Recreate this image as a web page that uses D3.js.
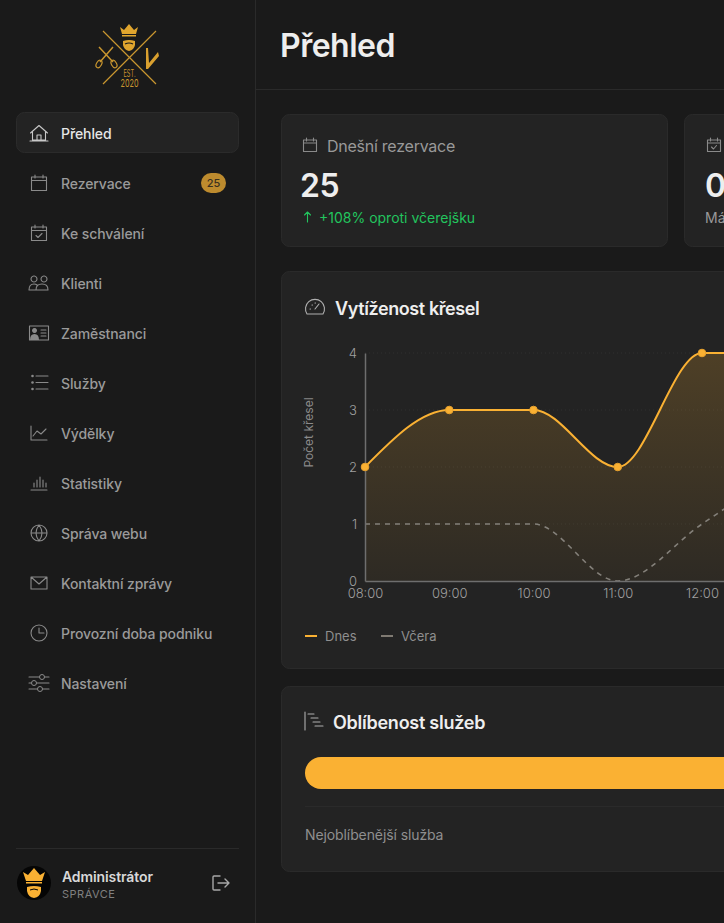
<!DOCTYPE html>
<html lang="cs">
<head>
  <meta charset="utf-8" />
  <title>Přehled</title>
  <style>
    html, body { margin: 0; padding: 0; background: #1a1a1a; overflow: hidden; }
    svg { display: block; }
    text { font-family: Inter, "Noto Sans", sans-serif; }
    .ic { fill: none; stroke: #8a8a8a; stroke-width: 1.1; stroke-linecap: round; stroke-linejoin: round; }
  </style>
</head>
<body>
  <svg id="page" width="724" height="923"></svg>

  <script src="https://d3js.org/d3.v7.min.js"></script>
  <script>
    // chart data
    const hours = ["08:00", "09:00", "10:00", "11:00", "12:00", "13:00"];
    const today = [2, 3, 3, 2, 4, 4];
    const yesterday = [1, 1, 1, 0, 1, 2];
    const yTicks = [0, 1, 2, 3, 4];
    const legendNames = ["Dnes", "Včera"];
    const topServiceShare = [100];

    // sidebar
    const navLabels = ["Přehled", "Rezervace", "Ke schválení", "Klienti", "Zaměstnanci", "Služby",
      "Výdělky", "Statistiky", "Správa webu", "Kontaktní zprávy", "Provozní doba podniku", "Nastavení"];

    const GOLD = "#fab133";
    const svg = d3.select("#page");

    function label(parent, x, y, str, size, weight, fill, spacing) {
      return parent.append("text").attr("x", x).attr("y", y).text(str)
        .attr("font-size", size).attr("font-weight", weight).attr("fill", fill)
        .attr("letter-spacing", spacing || 0);
    }
    function icon(cx, cy, d, extra) {
      const p = svg.append("path").attr("class", "ic").attr("d", d)
        .attr("transform", `translate(${cx},${cy})`);
      if (extra) p.style("stroke", extra);
      return p;
    }

    // sidebar + header lines
    svg.append("rect").attr("x", 255).attr("width", 1).attr("height", 923).attr("fill", "#2a2a2a");
    svg.append("rect").attr("x", 256).attr("y", 89).attr("width", 468).attr("height", 1).attr("fill", "#2a2a2a");

    // logo
    const logo = svg.append("g").attr("fill", "none").attr("stroke", "#c9962f").attr("stroke-width", 1.2);
    logo.append("path").attr("d", "M103 31L156 84M156 31L103 84");
    logo.append("path").attr("fill", "#e0a52e").attr("stroke", "none")
      .attr("d", "M120 27l4 3 5-6 5 6 4-3-2 7h-14zM122 35h14v1.500h-14z");
    logo.append("path").attr("fill", "#e0a52e").attr("stroke", "none")
      .attr("d", "M123 41q6-2 12 0v4q-1 5-6 6q-5-1-6-6z");
    logo.append("path").attr("stroke", "#1a1a1a").attr("d", "M125 44q4-2 8 0");
    logo.append("path").attr("stroke-width", 1.500).attr("d", "M99 47L113 62M113 47L100 62");
    logo.append("ellipse").attr("cx", 99).attr("cy", 64).attr("rx", 2.500).attr("ry", 4).attr("transform", "rotate(30 99 64)");
    logo.append("ellipse").attr("cx", 114).attr("cy", 64).attr("rx", 2.500).attr("ry", 4).attr("transform", "rotate(-30 114 64)");
    logo.append("path").attr("fill", "#d9a02f").attr("stroke", "none")
      .attr("d", "M146 48l2 0 1 15 9-11 1 4-11 13-2 0z");
    label(svg, 129.500, 77, "EST.", 10, 400, "#c9962f").attr("text-anchor", "middle").attr("textLength", 12).attr("lengthAdjust", "spacingAndGlyphs");
    label(svg, 129.500, 87, "2020", 11, 400, "#c9962f").attr("text-anchor", "middle").attr("textLength", 18).attr("lengthAdjust", "spacingAndGlyphs");

    // active nav pill
    svg.append("rect").attr("x", 16.500).attr("y", 112.500).attr("width", 222).attr("height", 40).attr("rx", 8)
      .attr("fill", "#232323").attr("stroke", "#2b2b2b");

    const navY = d3.scalePoint().domain(navLabels).range([133, 683]);
    navLabels.forEach((n, i) => {
      label(svg, 61, navY(n) + 6, n, 14, 500, i === 0 ? "#e6e6e6" : "#9a9a9a", -0.1);
    });

    // nav icons, one per row
    const cal = "M-7.500-6h15v13.500h-15zM-7.500-2.500h15M-4-8v3M4-8v3";
    const navIcons = [
      "M-8.500 0L0-7.500 8.500 0M-6.500-1V7h13V-1M-2 7V2h4v5M-9 8h18",
      cal, cal + "M-3 2.500l2 2 4-4",
      "M-5-7a3 3 0 1 0 .01 0M5-7a3 3 0 1 0 .01 0M-10 7q0-6 5-6q2 0 3 1M-3 7h-7M-3 7h12q0-6-6-6q-6 0-6 6",
      "M-9.500-7h19v14h-19zM2-3h5M2 0h5M2 3h5",
      "M-3-7H9M-3-.5H9M-3 6H9",
      "M-8-7V7H8M-6 3l4-5 4 3 5-5",
      "M-8 7H8M-5 4V0M-2 4V-3M1 4V-6M4 4V-3M7 4V0",
      "M8 0A8 8 0 1 1-8 0A8 8 0 1 1 8 0M-8 0H8M0-8Q-6 0 0 8M0-8Q6 0 0 8",
      "M-8-6H8V6H-8zM-8-6L0 1 8-6",
      "M8 0A8 8 0 1 1-8 0A8 8 0 1 1 8 0M0-5V0H5",
      "M-10-6H10M-10 0H10M-10 6H10"
    ];
    navIcons.forEach((ic, i) => {
      const cy = navY(navLabels[i]);
      icon(39, cy, ic, i === 0 ? "#c8c8c8" : null);
      if (i === 4) {
        svg.append("path").attr("fill", "#8a8a8a").attr("transform", `translate(39,${cy})`)
          .attr("d", "M-4.500-5a2.500 2.500 0 1 0 .01 0zM-9 7q0-6 4.500-6t4.500 6z");
      }
      if (i === 5) {
        [-7, -.5, 6].forEach(dy => svg.append("circle").attr("cx", 32.500).attr("cy", cy + dy).attr("r", 1.300).attr("fill", "#8a8a8a"));
      }
      if (i === 11) {
        [[3, -6], [-5, 0], [1, 6]].forEach(c => svg.append("circle").attr("cx", 39 + c[0]).attr("cy", cy + c[1])
          .attr("r", 2.500).attr("fill", "#1a1a1a").attr("stroke", "#8a8a8a"));
      }
    });

    // reservation badge
    svg.append("rect").attr("x", 201).attr("y", 173).attr("width", 25).attr("height", 20).attr("rx", 10).attr("fill", "#bd8b2e");
    label(svg, 213.500, 187, "25", 11, 500, "#3a3020").attr("text-anchor", "middle");

    // user footer
    svg.append("rect").attr("x", 16).attr("y", 848).attr("width", 223).attr("height", 1).attr("fill", "#2a2a2a");
    svg.append("circle").attr("cx", 34).attr("cy", 883).attr("r", 17).attr("fill", "#050505");
    svg.append("path").attr("fill", GOLD).attr("d", "M23 872l5 3 6-7 6 7 5-3-3 9H26zM26 882h16v1.500H26z");
    svg.append("path").attr("fill", GOLD).attr("d", "M27 887q7-2 14 0v4q-1 6-7 7q-6-1-7-7z");
    svg.append("path").attr("fill", "none").attr("stroke", "#050505").attr("d", "M30 890q4-2 8 0");
    label(svg, 62, 882, "Administrátor", 14, 600, "#d8d8d8", -0.1);
    label(svg, 62, 898, "SPRÁVCE", 11, 400, "#808080", 0.5);
    icon(221, 883, "M-1-7h-6q-1 0-1 1V6q0 1 1 1h6M-3 0H8M4-4L8 0 4 4", "#a8a8a8").style("stroke-width", 1.4);

    // title
    label(svg, 280, 57, "Přehled", 32, 600, "#eeeeee", -0.5);

    // cards
    const cards = [[281, 114, 386, 132], [684, 114, 300, 132], [281, 271, 700, 397], [281, 686, 700, 185]];
    svg.selectAll(".card").data(cards).join("rect").attr("class", "card")
      .attr("x", d => d[0] + .5).attr("y", d => d[1] + .5).attr("width", d => d[2]).attr("height", d => d[3])
      .attr("rx", 8).attr("fill", "#232323").attr("stroke", "#2a2a2a");

    // stat cards
    icon(310, 145, "M-6.500-5h13v11.500h-13zM-6.500-2h13M-3.500-7v3M3.500-7v3");
    label(svg, 327, 152, "Dnešní rezervace", 16, 400, "#999999", -0.25);
    label(svg, 300, 197, "25", 32, 600, "#eeeeee", -0.5);
    icon(307.500, 217, "M0-5V5M-3-2L0-5 3-2", "#22c55e");
    label(svg, 319, 223, "+108% oproti včerejšku", 14, 400, "#22c55e", 0);

    icon(714, 145, "M-6.500-5h13v11.500h-13zM-6.500-2h13M-3.500-7v3M3.500-7v3M-2.500 2l2 2 3-3.500");
    label(svg, 705, 197, "0", 32, 600, "#eeeeee");
    label(svg, 705, 223, "Má", 14, 400, "#999999");

    // occupancy chart
    icon(315, 308, "M-8 6A9.500 9.500 0 1 1 8 6ZM0 1L4-4M-5 1h.5M-3-3h.5M0-5h.5", "#b0b0b0");
    label(svg, 335, 315, "Vytíženost křesel", 18, 600, "#eeeeee", -0.4);

    const x = d3.scalePoint().domain(hours).range([365, 786.250]);
    const y = d3.scaleLinear().domain([0, 4]).range([581, 353]);

    const defs = svg.append("defs");
    const grad = defs.append("linearGradient").attr("id", "todayFill")
      .attr("gradientUnits", "userSpaceOnUse").attr("x1", 0).attr("x2", 0).attr("y1", y(4)).attr("y2", y(0));
    grad.append("stop").attr("offset", 0).attr("stop-color", GOLD).attr("stop-opacity", 0.2);
    grad.append("stop").attr("offset", 1).attr("stop-color", GOLD).attr("stop-opacity", 0.05);

    // faint grid
    svg.append("g").selectAll("line").data(yTicks.slice(1)).join("line")
      .attr("x1", 365).attr("x2", 724).attr("y1", d => y(d)).attr("y2", d => y(d))
      .attr("stroke", "#3a3a3a").attr("stroke-width", 0.6).attr("stroke-dasharray", "1 3");

    const area = d3.area().x((d, i) => x(hours[i])).y0(y(0)).y1(d => y(d)).curve(d3.curveMonotoneX);
    const line = d3.line().x((d, i) => x(hours[i])).y(d => y(d)).curve(d3.curveMonotoneX);

    svg.append("path").attr("d", area(today)).attr("fill", "url(#todayFill)");
    svg.append("path").attr("d", line(yesterday)).attr("fill", "none").attr("stroke", "#84807a")
      .attr("stroke-width", 1.600).attr("stroke-dasharray", "5 5");

    const yAxis = svg.append("g").attr("transform", "translate(365,0)")
      .call(d3.axisLeft(y).tickValues(yTicks).tickSize(0).tickPadding(8).tickFormat(d3.format("d")));
    const xAxis = svg.append("g").attr("transform", "translate(0,581)")
      .call(d3.axisBottom(x).tickSize(0).tickPadding(8));
    [yAxis, xAxis].forEach(a => {
      a.select(".domain").attr("stroke", "#6e6e6e").attr("stroke-width", 1.5);
      a.selectAll("text").attr("fill", "#a0a0a0").attr("font-size", 13).attr("font-weight", 300).attr("font-family", "Inter");
    });

    svg.append("path").attr("d", line(today)).attr("fill", "none").attr("stroke", GOLD).attr("stroke-width", 2);
    svg.append("g").selectAll("circle").data(today).join("circle")
      .attr("cx", (d, i) => x(hours[i])).attr("cy", d => y(d)).attr("r", 3.800)
      .attr("fill", GOLD).attr("stroke", "#e8a22e");

    label(svg, 0, 0, "Počet křesel", 12, 400, "#8a8a8a")
      .attr("text-anchor", "middle").attr("transform", "translate(313,432.500) rotate(-90)");

    // legend
    const legendColors = [GOLD, "#7f7a72"];
    const legendX = d3.scalePoint().domain(legendNames).range([305, 381]);
    legendNames.forEach((n, i) => {
      svg.append("rect").attr("x", legendX(n)).attr("y", 635).attr("width", 12).attr("height", 2).attr("fill", legendColors[i]);
      label(svg, legendX(n) + 20, 641, n, 13, 400, "#8f8f8f");
    });

    // service popularity
    icon(314, 721, "M-9-9V9M-6-7H0M-3-3H4M-1 1H6M1 5H9", "#b0b0b0");
    label(svg, 333, 729, "Oblíbenost služeb", 18, 600, "#eeeeee", -0.25);

    const share = d3.scaleLinear().domain([0, 100]).range([305, 1000]);
    svg.selectAll(".bar").data(topServiceShare).join("rect").attr("class", "bar")
      .attr("x", share(0)).attr("y", 757).attr("width", d => share(d) - share(0)).attr("height", 32).attr("rx", 16)
      .attr("fill", GOLD);
    svg.append("rect").attr("x", 305).attr("y", 806).attr("width", 419).attr("height", 1).attr("fill", "#2a2a2a");
    label(svg, 305, 840, "Nejoblíbenější služba", 14, 400, "#8f8f8f", -0.1);
  </script>
</body>
</html>
